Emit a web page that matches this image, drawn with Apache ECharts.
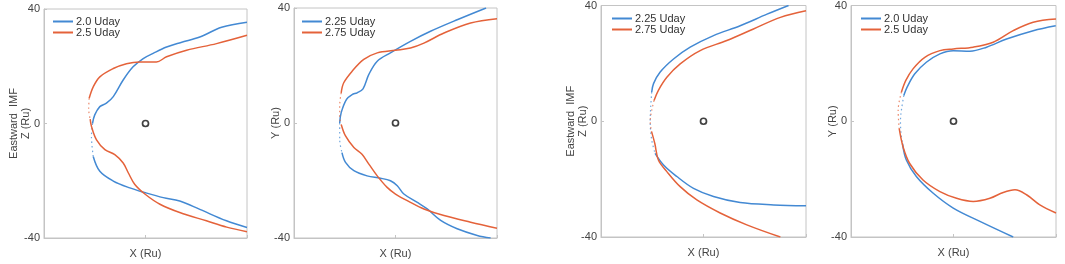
<!DOCTYPE html>
<html>
<head>
<meta charset="utf-8">
<script src="https://cdn.jsdelivr.net/npm/echarts@6/dist/echarts.min.js"></script>
<style>
  html, body { margin: 0; padding: 0; background: #fff; }
  #chart { width: 1065px; height: 264px; }
</style>
</head>
<body>
<div id="chart"></div>
<script>
// tick labels and axis names
const yTicks = [-40, 0, 40]
const yNames = ['Eastward  IMF\nZ (Ru)', 'Y (Ru)', 'Eastward  IMF\nZ (Ru)', 'Y (Ru)']
const xName = 'X (Ru)'

// legend names per panel
const names1 = ['2.0 Uday', '2.5 Uday']
const names2 = ['2.25 Uday', '2.75 Uday']
const names3 = ['2.25 Uday', '2.75 Uday']
const names4 = ['2.0 Uday', '2.5 Uday']

// boundary curves, [x, y] in Ru
const p1Blue = [[40, 35.4], [30, 33.6], [21.4, 30.2], [14, 28.3], [8.3, 26.7], [3, 24.5], [-0.9, 22.7], [-4.9, 19.8], [-8.8, 15.2], [-12.7, 9.4], [-15.4, 7.1], [-18, 5.9], [-20, 3.0], [-20.9, 0], [-21.3, -4.5], [-20.6, -11.5], [-18, -16.7], [-12.7, -20.1], [-6.2, -22.5], [0, -24.2], [7, -25.9], [13.5, -27.1], [21.4, -30], [31.9, -34], [40, -36.3]]
const p1Orange = [[40, 30.8], [28, 27.9], [16.2, 25.6], [8.3, 23.3], [4.3, 21.5], [-2.2, 21.5], [-7.5, 20.9], [-12.7, 19.2], [-18, 16.3], [-20.6, 12.8], [-22.2, 8.8], [-22.4, 5], [-21.8, 1.5], [-21.3, -1], [-19.3, -5.7], [-16, -9.1], [-12.1, -10.9], [-8.8, -13.8], [-6.8, -17.2], [-4.2, -21.3], [0, -24.8], [5.7, -28.2], [13.5, -31.1], [24, -34], [32, -36.2], [40, -37.8]]
const p2Blue = [[35.7, 40], [24.3, 35.9], [13.8, 31.9], [5.9, 28.4], [-2, 24.4], [-7.2, 21.5], [-10.5, 16.9], [-12.8, 11.9], [-15.1, 10.5], [-17.1, 9.9], [-19.3, 8.2], [-21.4, 3.6], [-22, 0], [-22, -5.7], [-21.1, -10.3], [-19.7, -13.7], [-16.4, -16.6], [-11.2, -18.4], [-5.9, -19.2], [-2, -20.1], [0.7, -21.8], [3.3, -24.7], [8.6, -27.6], [12.5, -29.9], [17.8, -33.9], [24.3, -36.8], [32.2, -39.1], [37.5, -40]]
const p2Orange = [[40, 36.3], [29.6, 34.8], [19.1, 31.3], [11.2, 27.8], [5.9, 26.1], [0, 25.3], [-7.2, 24.4], [-12.5, 22.1], [-17.1, 18], [-20.4, 14], [-21.4, 10.5], [-22, 6], [-22, 2], [-21.4, -0.5], [-19.7, -4.5], [-16.4, -8.5], [-13.2, -10.9], [-10.5, -14.3], [-7.2, -18.4], [-3.3, -22.4], [0, -24.7], [5.9, -27.6], [11.2, -29.9], [19.1, -32.2], [29.6, -34.5], [40, -36.6]]
const p3Blue = [[33.2, 40], [24.8, 37], [14.3, 33], [3.9, 29.6], [-5.2, 25.6], [-11.7, 21.5], [-16.9, 17], [-19.5, 13], [-20.2, 10.1], [-20.6, 5], [-20.8, 0], [-20.2, -6.5], [-18.9, -11.1], [-15.6, -15.1], [-10.4, -19.1], [-3.9, -23.2], [3.9, -26], [14.3, -28.1], [27.4, -28.9], [40, -29.2]]
const p3Orange = [[40, 38.2], [30, 35.9], [19.5, 31.9], [9.1, 27.9], [-1.3, 24.4], [-9.1, 19.8], [-14.3, 15.2], [-17.6, 10.7], [-19.3, 7.2], [-20.2, 3.8], [-20.8, 0], [-20.3, -3.5], [-19, -7.7], [-17.6, -13.4], [-14.3, -17.4], [-9.1, -22.6], [-2.6, -27.2], [6.5, -31.7], [16.9, -35.8], [30, -40]]
const p4Blue = [[39.9, 33], [31.1, 31.3], [20.7, 28.4], [12.9, 25.6], [6.4, 24.2], [-0.1, 24.4], [-5.3, 23.3], [-10.6, 20.4], [-15.1, 16.4], [-18.1, 11.8], [-19.4, 8.9], [-20.3, 4], [-20.7, 0], [-20.5, -4], [-19.9, -7.7], [-18.4, -13.4], [-14.5, -19.1], [-7.9, -24.9], [-0.1, -30], [10.3, -34.6], [23.3, -40]]
const p4Orange = [[40, 35.3], [31.1, 34.2], [23.3, 31.3], [15.5, 27.3], [7.7, 25.6], [-0.1, 25], [-5.3, 24.4], [-11.2, 22.1], [-15.8, 18.1], [-18.6, 14.1], [-20.3, 10.1], [-21.6, 3.8], [-21.2, -2.5], [-19.7, -8.8], [-17.1, -14.6], [-11.9, -20.3], [-5.3, -24.3], [1.2, -26.6], [7.7, -27.7], [14.2, -26.6], [19.4, -24.6], [24, -23.7], [28.5, -25.4], [33.7, -28.9], [40, -31.7]]

// stretch of each curve (point indices) near the nose where the boundary is only sparse dots
const p1BlueDots = [13, 15], p1OrangeDots = [10, 12]
const p2BlueDots = [12, 14], p2OrangeDots = [10, 13]
const p3BlueDots = [8, 12], p3OrangeDots = [8, 11]
const p4BlueDots = [10, 14], p4OrangeDots = [10, 12]

// planet position
const planet = [[0, 0]]

const BLUE = '#4389d3'
const ORANGE = '#e4623a'
const FONT = 'Liberation Sans, Arial, sans-serif'

const panels = [
    { grid: { left: 44, top: 9, width: 203, height: 230 }, legend: [53, 16], names: names1, blue: [p1Blue, p1BlueDots], orange: [p1Orange, p1OrangeDots] },
    { grid: { left: 294, top: 8, width: 203, height: 231 }, legend: [302, 16], names: names2, blue: [p2Blue, p2BlueDots], orange: [p2Orange, p2OrangeDots] },
    { grid: { left: 601, top: 5, width: 205, height: 232 }, legend: [612, 13], names: names3, blue: [p3Blue, p3BlueDots], orange: [p3Orange, p3OrangeDots] },
    { grid: { left: 851, top: 5, width: 205, height: 232 }, legend: [861, 13], names: names4, blue: [p4Blue, p4BlueDots], orange: [p4Orange, p4OrangeDots] }
]

const chart = echarts.init(document.getElementById('chart'), null, { renderer: 'canvas' })

const grid = [], xAxis = [], yAxis = [], legend = [], series = []
panels.forEach((p, i) => {
    grid.push(Object.assign({ show: true, borderColor: '#c4c4c4', borderWidth: 1, backgroundColor: '#fff' }, p.grid))
    xAxis.push({
        gridIndex: i, type: 'value', min: -40, max: 40, interval: 40,
        name: xName, nameLocation: 'middle', nameGap: 10, nameMoveOverlap: false,
        nameTextStyle: { color: '#444', fontSize: 11, fontFamily: FONT },
        axisLine: { show: true, onZero: false, lineStyle: { color: '#c4c4c4' } },
        axisTick: { show: true, inside: true, length: 3, lineStyle: { color: '#c4c4c4' } },
        axisLabel: { show: false },
        splitLine: { show: false }
    })
    yAxis.push({
        gridIndex: i, type: 'value', min: yTicks[0], max: yTicks[2], interval: 40,
        name: yNames[i], nameLocation: 'middle', nameGap: 12, nameRotate: 90, nameMoveOverlap: false,
        nameTextStyle: { color: '#444', fontSize: 11, fontFamily: FONT, lineHeight: 12 },
        axisLine: { show: true, onZero: false, lineStyle: { color: '#c4c4c4' } },
        axisTick: { show: true, inside: true, length: 3, lineStyle: { color: '#c4c4c4' } },
        axisLabel: { color: '#444', fontSize: 11, fontFamily: FONT, margin: 4 },
        splitLine: { show: false }
    })
    legend.push({
        left: p.legend[0], top: p.legend[1], orient: 'vertical', itemGap: 0,
        itemWidth: 20, itemHeight: 2, icon: 'rect', padding: 0,
        data: p.names.map(n => ({ name: n })),
        textStyle: { color: '#333', fontSize: 11, fontFamily: FONT, lineHeight: 11, padding: [0, 0, 0, -2] }
    })
    // solid curve broken at the nose, plus a faint dotted piece over the break
    const addCurve = (name, curve, color) => {
        const data = curve[0], a = curve[1][0], b = curve[1][1]
        const solid = data.slice(0, a + 1).concat([null], data.slice(b))
        series.push({
            name, type: 'line', xAxisIndex: i, yAxisIndex: i, data: solid,
            showSymbol: false, smooth: 0.35, connectNulls: false, color,
            lineStyle: { color, width: 1.5 }, animation: false
        })
        series.push({
            type: 'line', xAxisIndex: i, yAxisIndex: i, data: data.slice(a, b + 1),
            showSymbol: false, smooth: 0.35, silent: true,
            lineStyle: { color, width: 1.2, type: [1.5, 3], opacity: 0.75 }, animation: false
        })
    }
    addCurve(p.names[0], p.blue, BLUE)
    addCurve(p.names[1], p.orange, ORANGE)
    series.push({
        type: 'scatter', xAxisIndex: i, yAxisIndex: i, data: planet,
        symbol: 'circle', symbolSize: 6, silent: true,
        itemStyle: { color: '#fff', borderColor: '#111', borderWidth: 1.7 }, animation: false
    })
})

chart.setOption({ animation: false, grid, xAxis, yAxis, legend, series })
</script>
</body>
</html>
